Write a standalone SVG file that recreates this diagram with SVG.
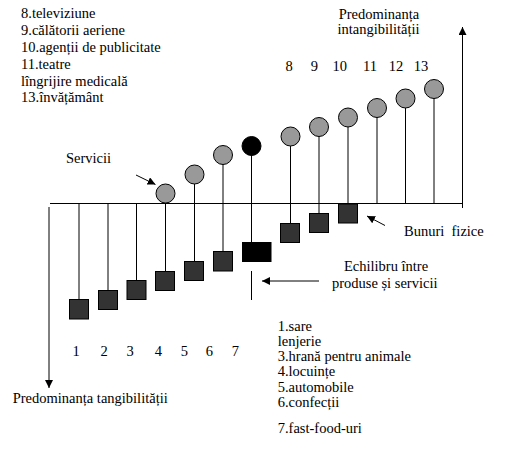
<svg xmlns="http://www.w3.org/2000/svg" width="513" height="449" viewBox="0 0 513 449">
<style>
text{font-family:"Liberation Serif","Times New Roman",serif;font-size:14.5px;fill:#000}
.m{text-anchor:middle}
.ln{stroke:#000;stroke-width:1;fill:none}
.c{fill:#999;stroke:#000;stroke-width:1}
.s{fill:#333;stroke:#000;stroke-width:1}
.k{fill:#000;stroke:#000;stroke-width:1}
</style>
<defs>
<marker id="ah" viewBox="0 0 8 8" refX="8" refY="4" markerWidth="8" markerHeight="8" markerUnits="userSpaceOnUse" orient="auto">
<path d="M0,0 L8,4 L0,8 z" fill="#000"/>
</marker>
</defs>
<rect width="513" height="449" fill="#fff"/>
<g id="connectors">
<line class="ln" x1="50" y1="203.5" x2="462" y2="203.5"/>
<line class="ln" x1="462.5" y1="208" x2="462.5" y2="27" marker-end="url(#ah)"/>
<line class="ln" x1="49" y1="207" x2="49" y2="388" marker-end="url(#ah)"/>
<line class="ln" x1="79" y1="203.5" x2="79" y2="299"/>
<line class="ln" x1="108" y1="203.5" x2="108" y2="290"/>
<line class="ln" x1="136.5" y1="203.5" x2="136.5" y2="280"/>
<line class="ln" x1="165.5" y1="193" x2="165.5" y2="271"/>
<line class="ln" x1="194.5" y1="174" x2="194.5" y2="261"/>
<line class="ln" x1="223" y1="155" x2="223" y2="251"/>
<line class="ln" x1="251.5" y1="146" x2="251.5" y2="242"/>
<line class="ln" x1="290.5" y1="136.5" x2="290.5" y2="223"/>
<line class="ln" x1="319" y1="127" x2="319" y2="213"/>
<line class="ln" x1="348" y1="117.5" x2="348" y2="204"/>
<line class="ln" x1="377" y1="108" x2="377" y2="203.5"/>
<line class="ln" x1="405.5" y1="98.5" x2="405.5" y2="203.5"/>
<line class="ln" x1="434" y1="89" x2="434" y2="203.5"/>
<line class="ln" x1="251.5" y1="271" x2="251.5" y2="300"/>
<line class="ln" x1="319" y1="281" x2="262" y2="281" marker-end="url(#ah)"/>
<line class="ln" x1="136" y1="175" x2="155.5" y2="184.5" marker-end="url(#ah)"/>
<line class="ln" x1="385" y1="225.5" x2="367" y2="216" marker-end="url(#ah)"/>
</g>
<g id="services">
<circle class="c" cx="165.5" cy="193.5" r="9.5"/>
<circle class="c" cx="194.5" cy="174.5" r="9.5"/>
<circle class="c" cx="223" cy="155" r="9.5"/>
<circle class="k" cx="251.5" cy="146" r="9.5"/>
<circle class="c" cx="290.5" cy="136.5" r="9.5"/>
<circle class="c" cx="319" cy="127" r="9.5"/>
<circle class="c" cx="348" cy="117.5" r="9.5"/>
<circle class="c" cx="377" cy="108" r="9.5"/>
<circle class="c" cx="405.5" cy="98.5" r="9.5"/>
<circle class="c" cx="434" cy="89" r="9.5"/>
</g>
<g id="goods">
<rect class="s" x="69.5" y="299.5" width="19" height="19.5"/>
<rect class="s" x="98.5" y="290.5" width="19" height="19"/>
<rect class="s" x="127" y="280.5" width="19" height="19"/>
<rect class="s" x="155.5" y="271.5" width="19" height="19"/>
<rect class="s" x="184.5" y="261.5" width="19" height="19"/>
<rect class="s" x="213.5" y="251.5" width="19" height="19.5"/>
<rect class="k" x="242.5" y="242.5" width="28.5" height="19"/>
<rect class="s" x="280.5" y="223.5" width="19" height="19"/>
<rect class="s" x="309.5" y="213.5" width="19" height="19"/>
<rect class="s" x="338.5" y="204" width="19" height="19"/>
</g>
<g id="list-services">
<text x="21" y="18.3">8.televiziune</text>
<text x="21" y="35.1">9.călătorii aeriene</text>
<text x="21" y="51.9">10.agenții de publicitate</text>
<text x="21" y="68.7">11.teatre</text>
<text x="21" y="85.5">lîngrijire medicală</text>
<text x="21" y="102.3">13.învățământ</text>
</g>
<g id="axis-top-label">
<text class="m" x="379" y="18.5">Predominanța</text>
<text class="m" x="378.5" y="33.5">intangibilității</text>
</g>
<g id="numbers-top">
<text class="m" x="289" y="70.5">8</text>
<text class="m" x="314.3" y="70.5">9</text>
<text class="m" x="339.7" y="70.5">10</text>
<text class="m" x="370" y="70.5">11</text>
<text class="m" x="396" y="70.5">12</text>
<text class="m" x="421" y="70.5">13</text>
</g>
<g id="label-servicii"><text x="66" y="163.3">Servicii</text></g>
<g id="label-bunuri"><text x="404" y="235.7" xml:space="preserve">Bunuri  fizice</text></g>
<g id="label-echilibru">
<text class="m" x="386" y="271">Echilibru între</text>
<text class="m" x="384.7" y="288.3">produse și servicii</text>
</g>
<g id="numbers-bottom">
<text class="m" x="76" y="355.7">1</text>
<text class="m" x="104" y="355.7">2</text>
<text class="m" x="130" y="355.7">3</text>
<text class="m" x="158.3" y="355.7">4</text>
<text class="m" x="184.3" y="355.7">5</text>
<text class="m" x="209.3" y="355.7">6</text>
<text class="m" x="235.3" y="355.7">7</text>
</g>
<g id="axis-bottom-label"><text x="12.7" y="403.3">Predominanța tangibilității</text></g>
<g id="list-goods">
<text x="277.7" y="331">1.sare</text>
<text x="277.7" y="346">lenjerie</text>
<text x="277.7" y="361">3.hrană pentru animale</text>
<text x="277.7" y="376">4.locuințe</text>
<text x="277.7" y="392">5.automobile</text>
<text x="277.7" y="407">6.confecții</text>
<text x="277.7" y="433">7.fast-food-uri</text>
</g>
</svg>
